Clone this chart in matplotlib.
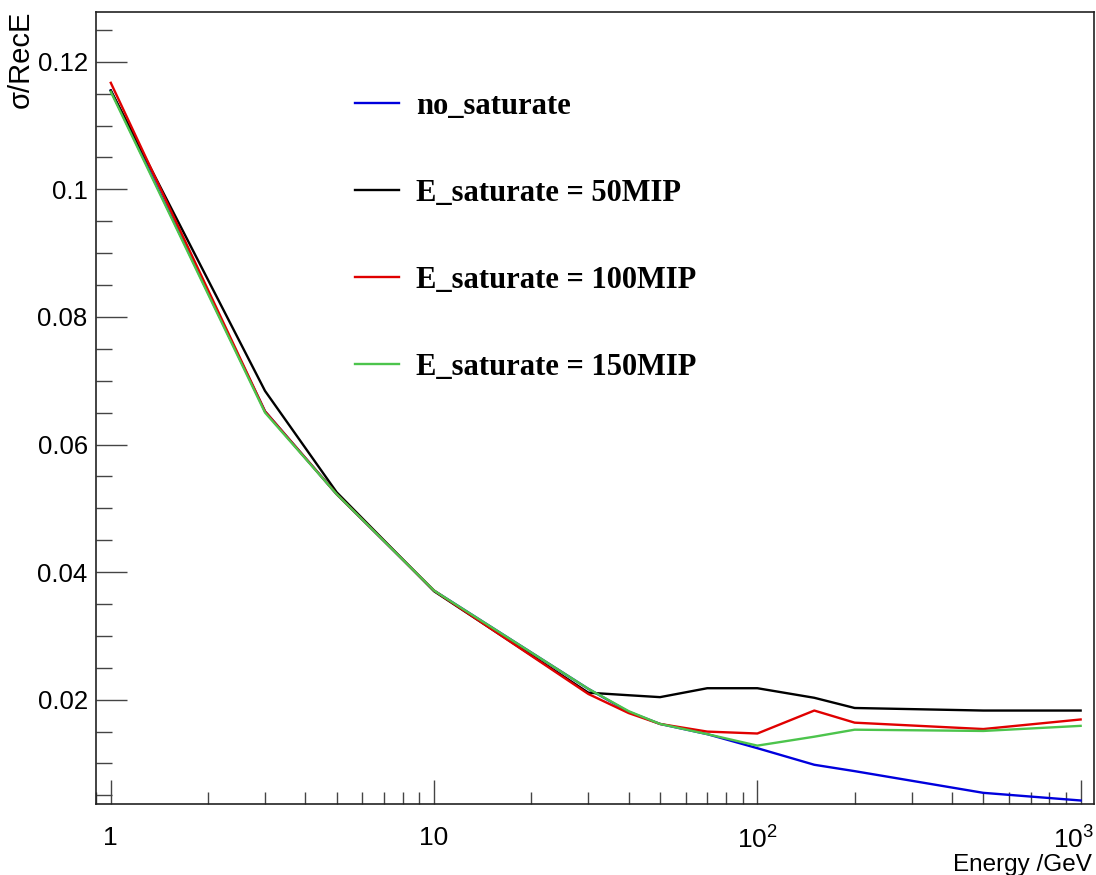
import matplotlib
matplotlib.use('Agg')
import matplotlib.pyplot as plt
import matplotlib.transforms as mtransforms
from matplotlib.ticker import FixedLocator, FixedFormatter, MultipleLocator, LogLocator, NullFormatter
from matplotlib.font_manager import FontProperties

# ---- data ----
energy = [1, 3, 5, 10, 30, 40, 50, 70, 100, 150, 200, 500, 1000]
no_saturate = [0.1155, 0.0652, 0.0522, 0.0371, 0.0217, 0.0181, 0.0162, 0.0146, 0.0124, 0.0098, 0.0088, 0.0054, 0.0042]
sat_50mip = [0.1155, 0.0684, 0.0525, 0.0370, 0.0211, 0.0207, 0.0204, 0.0218, 0.0218, 0.0203, 0.0187, 0.0183, 0.0183]
sat_100mip = [0.1167, 0.0652, 0.0522, 0.0371, 0.0209, 0.0179, 0.0162, 0.0150, 0.0147, 0.0183, 0.0164, 0.0154, 0.0169]
sat_150mip = [0.1153, 0.0650, 0.0522, 0.0371, 0.0217, 0.0182, 0.0162, 0.0146, 0.0128, 0.0142, 0.0153, 0.0151, 0.0159]

series_labels = ['no_saturate', 'E_saturate = 50MIP', 'E_saturate = 100MIP', 'E_saturate = 150MIP']
series_colors = ['#0000dd', '#000000', '#e00000', '#4cc44c']

y_ticks = [0.02, 0.04, 0.06, 0.08, 0.1, 0.12]
y_ticklabels = ['0.02', '0.04', '0.06', '0.08', '0.1', '0.12']
x_ticks = [1, 10, 100, 1000]
x_ticklabels = ['1', '10', '10$^{2}$', '10$^{3}$']

plt.rcParams['font.family'] = ['Liberation Sans', 'DejaVu Sans']
plt.rcParams['mathtext.default'] = 'regular'

fig = plt.figure(figsize=(10.96, 8.75), dpi=100)
ax = fig.add_axes([96/1096, 71/875, 998/1096, 792/875])

series = [no_saturate, sat_50mip, sat_100mip, sat_150mip]
handles = []
for vals, lab, col in zip(series, series_labels, series_colors):
    h, = ax.plot(energy, vals, color=col, lw=1.7, label=lab)
    handles.append(h)

ax.set_xscale('log')
ax.set_xlim(0.9, 1099.9)
ax.set_ylim(0.00365, 0.1278)

ax.xaxis.set_major_locator(FixedLocator(x_ticks))
ax.xaxis.set_major_formatter(FixedFormatter(x_ticklabels))
ax.xaxis.set_minor_locator(LogLocator(base=10, subs=[2, 3, 4, 5, 6, 7, 8, 9], numticks=20))
ax.xaxis.set_minor_formatter(NullFormatter())
ax.yaxis.set_major_locator(FixedLocator(y_ticks))
ax.yaxis.set_major_formatter(FixedFormatter(y_ticklabels))
ax.yaxis.set_minor_locator(MultipleLocator(0.005))

ax.tick_params(axis='both', which='both', direction='in', color='#444444', width=1,
               top=False, right=False)
ax.tick_params(axis='y', which='major', length=22, pad=6, labelsize=18.5)
ax.tick_params(axis='y', which='minor', length=11.5)
ax.tick_params(axis='x', which='major', length=17, pad=16, labelsize=19)
ax.tick_params(axis='x', which='minor', length=8.5)
for s in ax.spines.values():
    s.set_linewidth(1.2)
    s.set_color('#222222')

ax.set_xlabel('Energy /GeV', loc='right', fontsize=17.5)
ax.xaxis.set_label_coords(0.998, -0.0625)
ax.set_ylabel('σ/RecE', loc='top', fontsize=21)
ax.yaxis.set_label_coords(-0.061, 1.0025)

leg = ax.legend(handles, series_labels, loc='upper left',
                bbox_to_anchor=(355/1096, 1 - 92/875), bbox_transform=fig.transFigure,
                frameon=False,
                prop=FontProperties(family=['Liberation Serif', 'DejaVu Serif'], weight='bold', size=22),
                handlelength=1.45, handletextpad=0.55, labelspacing=1.9,
                borderpad=0, borderaxespad=0)
for ln in leg.get_lines():
    ln.set_linewidth(1.7)

# keep the last x tick label (10^3) inside the canvas, as in the reference
fig.canvas.draw()
last_lab = ax.xaxis.get_major_ticks()[-1].label1
last_lab.set_transform(last_lab.get_transform() +
                       mtransforms.ScaledTranslation(-7/100, 0, fig.dpi_scale_trans))

fig.savefig('out.png', dpi=100)
